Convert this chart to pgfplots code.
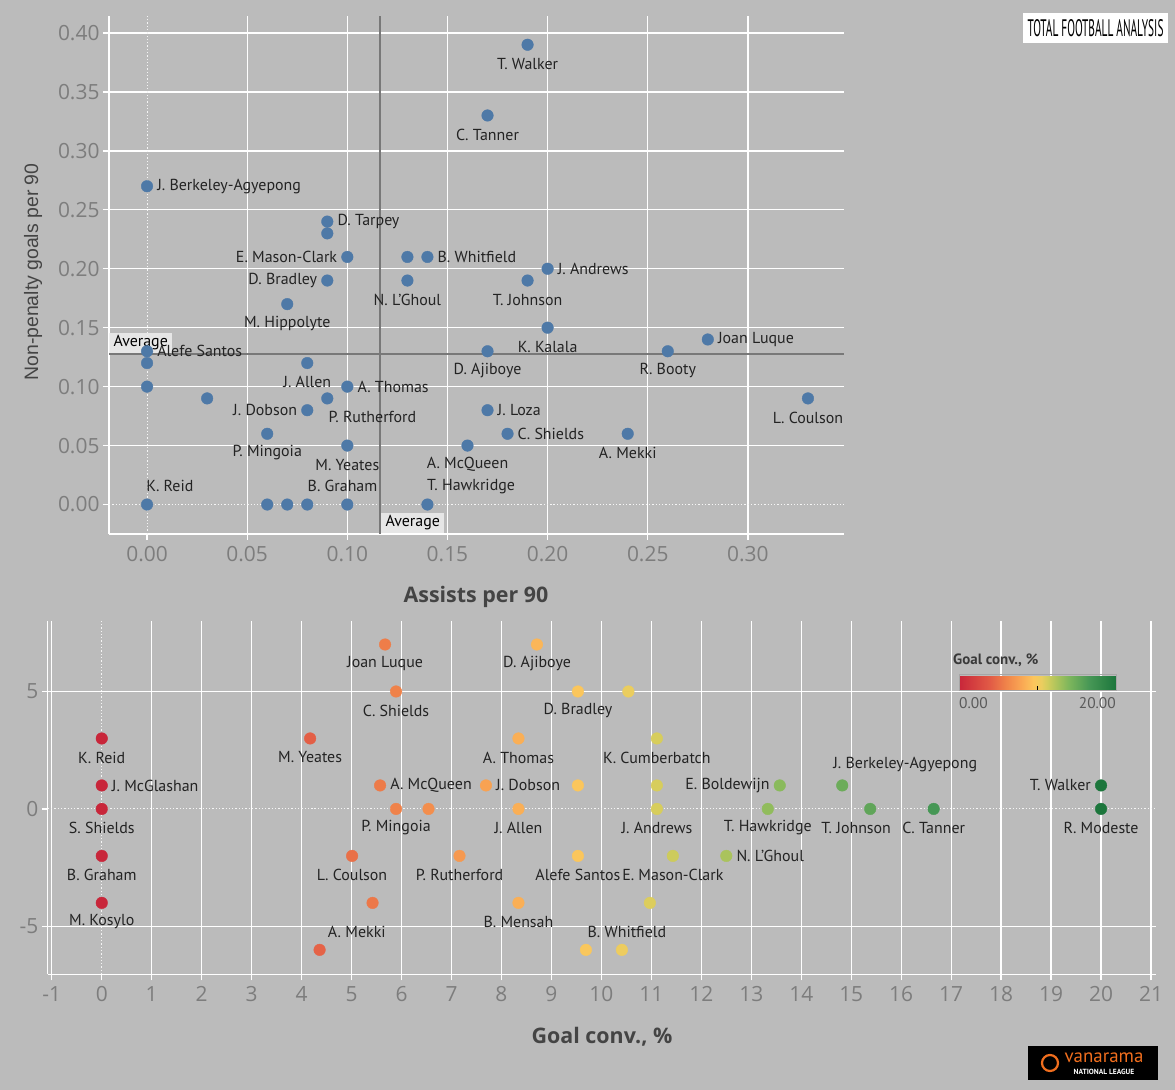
\documentclass[border=0pt]{standalone}
\usepackage{pgfplots}
\pgfplotsset{compat=1.18}
\usepackage{fontspec}
\setmainfont{PT Sans}
\newfontfamily\tickfont{Open Sans}
\newfontfamily\arialfont{Liberation Sans}
\definecolor{bg}{RGB}{187,187,187}
\definecolor{tickc}{RGB}{125,125,125}
\definecolor{axlab}{RGB}{68,68,68}
\definecolor{lab}{RGB}{35,35,35}
\definecolor{pblue}{RGB}{78,121,167}
\definecolor{avgc}{RGB}{120,120,120}
\definecolor{avgbox}{RGB}{238,238,238}
\definecolor{vorange}{RGB}{240,110,30}
\tikzset{lbl/.style={font=\fontsize{16}{16}\selectfont, text=lab, inner sep=0pt}}
\newcommand{\lbB}[3]{\node[lbl, anchor=center, yshift=-19bp] at (axis cs:#1,#2) {#3};}
\newcommand{\lbR}[3]{\node[lbl, anchor=west, xshift=10bp] at (axis cs:#1,#2) {#3};}
\newcommand{\lbL}[3]{\node[lbl, anchor=east, xshift=-10bp] at (axis cs:#1,#2) {#3};}
\newcommand{\lbA}[3]{\node[lbl, anchor=center] at (axis cs:#1,#2) {#3};}
\begin{document}
\begin{tikzpicture}
\fill[bg] (0bp,0bp) rectangle (1175bp,1090bp);
\coordinate (topSW) at (109bp,556bp);
\coordinate (botSW) at (47.8bp,115.7bp);
% ---------------- top scatter ----------------
\begin{axis}[
  at={(topSW)}, anchor=south west,
  scale only axis, width=735bp, height=518bp,
  xmin=-0.019, xmax=0.348, ymin=-0.025, ymax=0.4144,
  axis x line*=bottom, axis y line*=left,
  axis line style={draw=white, line width=1.3bp, -},
  xtick={0.05,0.10,0.15,0.20,0.25,0.30},
  xticklabels={0.05,0.10,0.15,0.20,0.25,0.30},
  extra x ticks={0}, extra x tick labels={0.00},
  ytick={0.05,0.10,0.15,0.20,0.25,0.30,0.35,0.40},
  yticklabels={0.05,0.10,0.15,0.20,0.25,0.30,0.35,0.40},
  extra y ticks={0}, extra y tick labels={0.00},
  extra x tick style={grid=major, major grid style={draw=white!85!bg, dotted, line width=1bp}},
  extra y tick style={grid=major, major grid style={draw=white!85!bg, dotted, line width=1bp}},
  grid=major, major grid style={draw=white, line width=1.3bp},
  tick align=outside, major tick length=6bp,
  tick style={draw=white, line width=1.3bp},
  tick label style={font=\tickfont\fontsize{21}{21}\selectfont, text=tickc},
  xticklabel style={yshift=-3bp},
  xlabel={Assists per 90}, ylabel={Non-penalty goals per 90},
  xlabel style={font=\tickfont\bfseries\fontsize{21.5}{21.5}\selectfont, text=axlab, at={(axis description cs:0.4993,-0.1216)}, anchor=center},
  ylabel style={font=\arialfont\fontsize{19.5}{19.5}\selectfont, text=axlab, at={(axis description cs:-0.1034,0.5058)}, anchor=center},
  clip=false,
]
\addplot[avgc, line width=2bp, forget plot] coordinates {(0.1164,-0.025) (0.1164,0.4144)};
\addplot[avgc, line width=2bp, forget plot] coordinates {(-0.019,0.128) (0.348,0.128)};
\addplot[only marks, mark=*, mark size=5.8bp, mark options={draw=pblue, fill=pblue}] coordinates {
(0.19,0.39) (0.17,0.33) (0,0.27) (0.09,0.24) (0.09,0.23) (0.10,0.21) (0.13,0.21) (0.14,0.21)
(0.20,0.20) (0.09,0.19) (0.13,0.19) (0.19,0.19) (0.07,0.17) (0.20,0.15) (0.28,0.14) (0,0.13)
(0.17,0.13) (0.26,0.13) (0,0.12) (0.08,0.12) (0,0.10) (0.10,0.10) (0.33,0.09) (0.03,0.09)
(0.09,0.09) (0.08,0.08) (0.17,0.08) (0.06,0.06) (0.18,0.06) (0.24,0.06) (0.10,0.05) (0.16,0.05)
(0,0) (0.06,0) (0.07,0) (0.08,0) (0.10,0) (0.14,0)
};
\lbB{0.19}{0.39}{T. Walker}
\lbB{0.17}{0.33}{C. Tanner}
\lbB{0.13}{0.19}{N. L’Ghoul}
\lbB{0.19}{0.19}{T. Johnson}
\lbB{0.07}{0.17}{M. Hippolyte}
\lbB{0.20}{0.15}{K. Kalala}
\lbB{0.17}{0.13}{D. Ajiboye}
\lbB{0.26}{0.13}{R. Booty}
\lbB{0.08}{0.12}{J. Allen}
\lbB{0.33}{0.09}{L. Coulson}
\lbB{0.06}{0.06}{P. Mingoia}
\lbB{0.24}{0.06}{A. Mekki}
\lbB{0.10}{0.05}{M. Yeates}
\lbB{0.16}{0.05}{A. McQueen}
\lbR{0}{0.27}{J. Berkeley-Agyepong}
\lbR{0.09}{0.24}{D. Tarpey}
\lbR{0.14}{0.21}{B. Whitfield}
\lbR{0.20}{0.20}{J. Andrews}
\lbR{0.28}{0.14}{Joan Luque}
\lbR{0.10}{0.10}{A. Thomas}
\lbR{0.17}{0.08}{J. Loza}
\lbR{0.18}{0.06}{C. Shields}
\lbL{0.10}{0.21}{E. Mason-Clark}
\lbL{0.09}{0.19}{D. Bradley}
\lbL{0.08}{0.08}{J. Dobson}
\lbA{0.1125}{0.074}{P. Rutherford}
\lbA{0.0114}{0.0155}{K. Reid}
\lbA{0.0976}{0.0155}{B. Graham}
\lbA{0.1618}{0.0155}{T. Hawkridge}
\node[fill=avgbox, fill opacity=0.85, text opacity=1, anchor=north west, minimum width=63bp, minimum height=20bp, inner sep=0pt, font=\fontsize{16}{16}\selectfont, text=black] at (axis cs:-0.019,0.1458) {Average};
\lbR{0}{0.13}{Alefe Santos}
\node[fill=avgbox, fill opacity=0.85, text opacity=1, anchor=north west, minimum width=63bp, minimum height=20bp, inner sep=0pt, font=\fontsize{16}{16}\selectfont, text=black] at (axis cs:0.11685,-0.00678) {Average};
\end{axis}
% ---------------- bottom scatter ----------------
\begin{axis}[
  at={(botSW)}, anchor=south west,
  scale only axis, width=1108.2bp, height=353.3bp,
  xmin=-1.08, xmax=21.1, ymin=-7.04, ymax=8.0,
  axis x line*=bottom, axis y line*=left,
  axis line style={draw=white, line width=1.3bp, -},
  xtick={-1,1,2,3,4,5,6,7,8,9,10,11,12,13,14,15,16,17,18,19,20,21},
  xticklabels={-1,1,2,3,4,5,6,7,8,9,10,11,12,13,14,15,16,17,18,19,20,21},
  extra x ticks={0}, extra x tick labels={0},
  ytick={-5,5}, yticklabels={-5,5},
  extra y ticks={0}, extra y tick labels={0},
  extra x tick style={grid=major, major grid style={draw=white!85!bg, dotted, line width=1bp}},
  extra y tick style={grid=major, major grid style={draw=white!85!bg, dotted, line width=1bp}},
  grid=major, major grid style={draw=white, line width=1.3bp},
  tick align=outside, major tick length=6bp,
  tick style={draw=white, line width=1.3bp},
  tick label style={font=\tickfont\fontsize{21}{21}\selectfont, text=tickc},
  xticklabel style={yshift=-3bp},
  xlabel={Goal conv., \%},
  xlabel style={font=\tickfont\bfseries\fontsize{21.5}{21.5}\selectfont, text=axlab, at={(axis description cs:0.5001,-0.1775)}, anchor=center},
  colormap={tabrg}{rgb255(0pt)=(200,38,58) rgb255(40pt)=(226,92,70) rgb255(60pt)=(240,132,74) rgb255(80pt)=(250,168,84) rgb255(95pt)=(252,198,92) rgb255(105pt)=(235,205,95) rgb255(112pt)=(212,205,92) rgb255(125pt)=(170,195,92) rgb255(140pt)=(125,182,92) rgb255(165pt)=(72,152,86) rgb255(200pt)=(28,118,60)},
  point meta min=0, point meta max=20,
  colorbar horizontal,
  colorbar style={
    at={(parent axis.south west)}, anchor=south west,
    xshift=911.2bp, yshift=292.3bp,
    scale only axis, width=157bp, height=16bp,
    xtick={10}, xticklabels={}, ytick=\empty,
    xtick pos=bottom, tick align=inside, major tick length=4bp,
    tick style={draw=black, line width=0.8bp},
    axis line style={draw=gray!70},
  },
  clip=false,
]
\addplot[scatter, only marks, mark=*, mark size=5.8bp, scatter src=x,
  scatter/use mapped color={draw=mapped color, fill=mapped color}] coordinates {
(5.67,7) (8.71,7)
(5.89,5) (9.53,5) (10.54,5)
(0,3) (4.17,3) (8.34,3) (11.11,3)
(0,1) (5.57,1) (7.69,1) (9.53,1) (11.11,1) (13.57,1) (14.82,1) (20.0,1)
(0,0) (5.89,0) (6.54,0) (8.34,0) (11.11,0) (13.33,0) (15.38,0) (16.65,0) (20.0,0)
(0,-2) (5.01,-2) (7.16,-2) (9.53,-2) (11.43,-2) (12.5,-2)
(0,-4) (5.42,-4) (8.34,-4) (10.97,-4)
(4.36,-6) (9.69,-6) (10.41,-6)
};
\lbB{5.67}{7}{Joan Luque}
\lbB{8.71}{7}{D. Ajiboye}
\lbB{5.89}{5}{C. Shields}
\lbB{9.53}{5}{D. Bradley}
\lbB{0}{3}{K. Reid}
\lbB{4.17}{3}{M. Yeates}
\lbB{8.34}{3}{A. Thomas}
\lbB{11.11}{3}{K. Cumberbatch}
\lbB{0}{0}{S. Shields}
\lbB{5.89}{0}{P. Mingoia}
\lbB{8.34}{0}{J. Allen}
\lbB{11.11}{0}{J. Andrews}
\lbB{13.33}{0}{T. Hawkridge}
\lbB{15.10}{0}{T. Johnson}
\lbB{16.65}{0}{C. Tanner}
\lbB{20.0}{0}{R. Modeste}
\lbB{0}{-2}{B. Graham}
\lbB{5.01}{-2}{L. Coulson}
\lbB{7.16}{-2}{P. Rutherford}
\lbB{9.53}{-2}{Alefe Santos}
\lbB{11.43}{-2}{E. Mason-Clark}
\lbB{0}{-4}{M. Kosylo}
\lbB{8.34}{-4}{B. Mensah}
\lbR{0}{1}{J. McGlashan}
\lbR{5.57}{1}{A. McQueen}
\lbR{7.69}{1}{J. Dobson}
\lbR{12.5}{-2}{N. L’Ghoul}
\lbL{13.57}{1}{E. Boldewijn}
\lbL{20.0}{1}{T. Walker}
\lbA{16.08}{1.875}{J. Berkeley-Agyepong}
\lbA{5.105}{-5.24}{A. Mekki}
\lbA{10.51}{-5.24}{B. Whitfield}
\end{axis}
% colour legend texts
\node[anchor=west, inner sep=0pt, font=\fontsize{15}{15}\selectfont\bfseries, text=lab!90!white] at (953bp,430bp) {Goal conv., \%};
\node[anchor=west, inner sep=0pt, font=\fontsize{15.5}{15.5}\selectfont, text=lab!75!white] at (959bp,387bp) {0.00};
\node[anchor=east, inner sep=0pt, font=\fontsize{15.5}{15.5}\selectfont, text=lab!75!white] at (1116bp,387bp) {20.00};
% logos
\fill[white] (1023bp,1047bp) rectangle (1168bp,1077bp);
\node[inner sep=0pt, text=black] at (1095.5bp,1062bp) {\resizebox{136bp}{17bp}{\fontsize{14}{14}\selectfont TOTAL FOOTBALL ANALYSIS}};
\fill[black] (1028bp,10bp) rectangle (1158bp,44bp);
\draw[vorange, line width=2.2bp] (1050bp,27bp) circle (8bp);
\node[inner sep=0pt, text=vorange, font=\fontsize{19}{19}\selectfont] at (1104bp,32bp) {vanarama};
\node[inner sep=0pt, text=white, font=\fontsize{7.5}{7.5}\selectfont\bfseries] at (1104bp,18bp) {NATIONAL LEAGUE};
\pgfresetboundingbox
\path[use as bounding box] (0bp,0bp) rectangle (1175bp,1090bp);
\end{tikzpicture}
\end{document}
